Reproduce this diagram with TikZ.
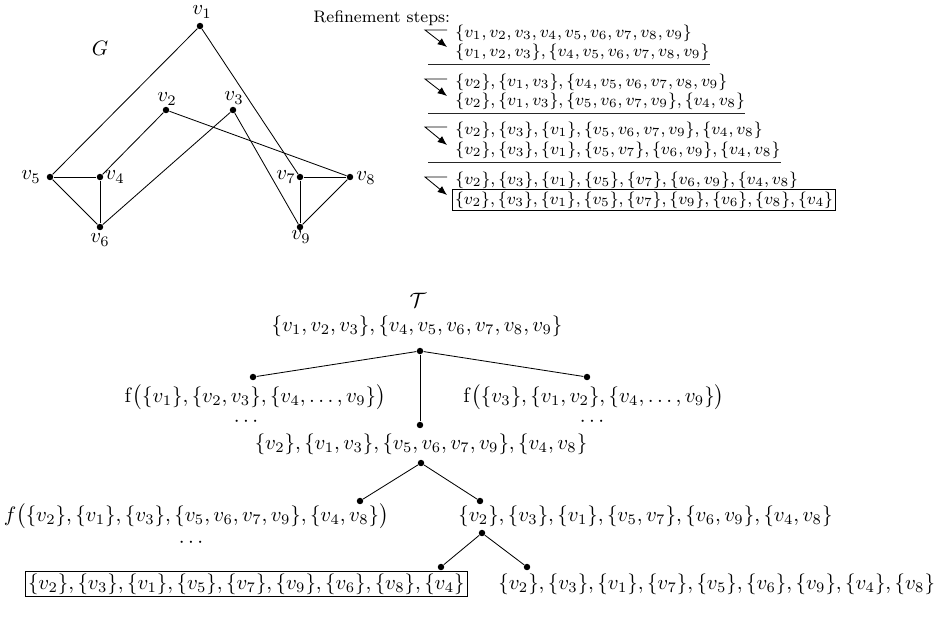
\documentclass[tikz,border=0pt]{standalone}
\usetikzlibrary{arrows.meta}
\begin{document}
\begin{tikzpicture}[x=0.48pt,y=-0.48pt,
  dot/.style={circle,fill=black,inner sep=0pt,minimum size=3.1pt},
  txt/.style={inner sep=0pt},
  reftxt/.style={inner sep=0pt,font=\footnotesize,anchor=west},
  edge/.style={line width=0.4pt},
  refarrow/.style={-{Latex[length=4.5pt,width=3.6pt]},line width=0.4pt},
  sepline/.style={line width=0.4pt,black!85}
]
\useasboundingbox (0,0) rectangle (937,631);

% ---------- Graph G ----------
\node[dot] (v1) at (200,26) {};
\node[dot] (v2) at (166,110) {};
\node[dot] (v3) at (233,110) {};
\node[dot] (v4) at (100,177) {};
\node[dot] (v5) at (50,177) {};
\node[dot] (v6) at (100,227) {};
\node[dot] (v7) at (300,177) {};
\node[dot] (v8) at (350,177) {};
\node[dot] (v9) at (300,227) {};
\node[txt] (G) at (100,48) {$G$};
\node[txt] (l1) at (202,12) {$v_1$};
\node[txt] (l2) at (167,99) {$v_2$};
\node[txt] (l3) at (234,98) {$v_3$};
\node[txt] (l4) at (115,177) {$v_4$};
\node[txt] (l5) at (31,177) {$v_5$};
\node[txt] (l6) at (100,240) {$v_6$};
\node[txt] (l7) at (286,177) {$v_7$};
\node[txt] (l8) at (366,178) {$v_8$};
\node[txt] (l9) at (301,237) {$v_9$};
\draw[edge] (v1) -- (v5);
\draw[edge] (v1) -- (v7);
\draw[edge] (v2) -- (v4);
\draw[edge] (v2) -- (v8);
\draw[edge] (v3) -- (v6);
\draw[edge] (v3) -- (v9);
\draw[edge] (v5) -- (v4);
\draw[edge] (v5) -- (v6);
\draw[edge] (v4) -- (v6);
\draw[edge] (v7) -- (v8);
\draw[edge] (v7) -- (v9);
\draw[edge] (v8) -- (v9);

% ---------- Refinement steps ----------
\node[reftxt] (title) at (313,18) {Refinement steps:};
\node[reftxt] (r1) at (455,33) {$\{v_1,v_2,v_3,v_4,v_5,v_6,v_7,v_8,v_9\}$};
\node[reftxt] (r2) at (455,52) {$\{v_1,v_2,v_3\},\{v_4,v_5,v_6,v_7,v_8,v_9\}$};
\node[reftxt] (r3) at (455,82) {$\{v_2\},\{v_1,v_3\},\{v_4,v_5,v_6,v_7,v_8,v_9\}$};
\node[reftxt] (r4) at (455,101) {$\{v_2\},\{v_1,v_3\},\{v_5,v_6,v_7,v_9\},\{v_4,v_8\}$};
\node[reftxt] (r5) at (455,130) {$\{v_2\},\{v_3\},\{v_1\},\{v_5,v_6,v_7,v_9\},\{v_4,v_8\}$};
\node[reftxt] (r6) at (455,150) {$\{v_2\},\{v_3\},\{v_1\},\{v_5,v_7\},\{v_6,v_9\},\{v_4,v_8\}$};
\node[reftxt] (r7) at (455,180) {$\{v_2\},\{v_3\},\{v_1\},\{v_5\},\{v_7\},\{v_6,v_9\},\{v_4,v_8\}$};
\node[reftxt,draw,inner sep=1.2pt,line width=0.5pt] (r8) at (452,200) {$\{v_2\},\{v_3\},\{v_1\},\{v_5\},\{v_7\},\{v_9\},\{v_6\},\{v_8\},\{v_4\}$};
\draw[sepline] (428,64) -- (r2.east |- 0,64);
\draw[sepline] (428,113) -- (r4.east |- 0,113);
\draw[sepline] (428,162) -- (r6.east |- 0,162);
\foreach \ya/\yb in {33/52,82/101,130/150,180/200}{
  \draw[refarrow] (447,\ya-3) -- (425,\ya-3) -- (447,\yb-5);
}

% ---------- Tree T ----------
\node[txt] (T) at (418,300) {$\mathcal{T}$};
\node[txt] (t0) at (417,326) {$\{v_1,v_2,v_3\},\{v_4,v_5,v_6,v_7,v_8,v_9\}$};
\node[dot] (nr) at (420,351) {};
\node[dot] (na) at (253,377) {};
\node[dot] (nb) at (420,425) {};
\node[dot] (nc) at (587,377) {};
\node[dot] (nd) at (421,463) {};
\node[dot] (ne) at (360,501) {};
\node[dot] (nf) at (480,501) {};
\node[dot] (ng) at (482,533) {};
\node[dot] (nh) at (441,567) {};
\node[dot] (nk) at (527,567) {};
\draw[edge] (nr) -- (na);
\draw[edge] (nr) -- (nb);
\draw[edge] (nr) -- (nc);
\draw[edge] (nd) -- (ne);
\draw[edge] (nd) -- (nf);
\draw[edge] (ng) -- (nh);
\draw[edge] (ng) -- (nk);

\node[txt,anchor=east] (ta) at (386,397) {$\mathrm{f}\bigl(\{v_1\},\{v_2,v_3\},\{v_4,\dots,v_9\}\bigr)$};
\node[txt] (tad) at (246,422) {$\cdots$};
\node[txt,anchor=west] (tc) at (463,397) {$\mathrm{f}\bigl(\{v_3\},\{v_1,v_2\},\{v_4,\dots,v_9\}\bigr)$};
\node[txt] (tcd) at (592,422) {$\cdots$};
\node[txt] (tb) at (421,444) {$\{v_2\},\{v_1,v_3\},\{v_5,v_6,v_7,v_9\},\{v_4,v_8\}$};
\node[txt,anchor=east] (te) at (389,516) {$f\bigl(\{v_2\},\{v_1\},\{v_3\},\{v_5,v_6,v_7,v_9\},\{v_4,v_8\}\bigr)$};
\node[txt] (ted) at (191,543) {$\cdots$};
\node[txt,anchor=west] (tf) at (458,516) {$\{v_2\},\{v_3\},\{v_1\},\{v_5,v_7\},\{v_6,v_9\},\{v_4,v_8\}$};
\node[draw,inner sep=1.2pt,anchor=west,line width=0.5pt] (th) at (25,584) {$\{v_2\},\{v_3\},\{v_1\},\{v_5\},\{v_7\},\{v_9\},\{v_6\},\{v_8\},\{v_4\}$};
\node[txt,anchor=west] (tk) at (498,584) {$\{v_2\},\{v_3\},\{v_1\},\{v_7\},\{v_5\},\{v_6\},\{v_9\},\{v_4\},\{v_8\}$};
\end{tikzpicture}
\end{document}
